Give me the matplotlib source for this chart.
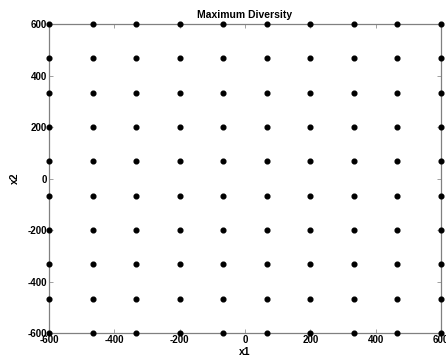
import numpy as np
import matplotlib
matplotlib.use("Agg")
import matplotlib.pyplot as plt

# Data: 10x10 grid of design points
x1_levels = [-600, -466.7, -333.3, -200, -66.7, 66.7, 200, 333.3, 466.7, 600]
x2_levels = [-600, -466.7, -333.3, -200, -66.7, 66.7, 200, 333.3, 466.7, 600]
xticks = [-600, -400, -200, 0, 200, 400, 600]
yticks = [-600, -400, -200, 0, 200, 400, 600]

X1, X2 = np.meshgrid(x1_levels, x2_levels)

plt.rcParams['font.family'] = ['Liberation Sans', 'DejaVu Sans']
fig = plt.figure(figsize=(4.46, 3.60), dpi=100)
ax = fig.add_axes([49/446, 1 - 333/360, (441-49)/446, (333-24)/360])

ax.plot(X1.ravel(), X2.ravel(), 'o', color='black', markersize=3.4,
        linestyle='none', clip_on=False, zorder=5)

ax.set_xlim(-600, 600)
ax.set_ylim(-600, 600)
ax.set_xticks(xticks)
ax.set_yticks(yticks)
ax.set_xticklabels([str(t) for t in xticks], fontsize=7, fontweight='bold')
ax.set_yticklabels([str(t) for t in yticks], fontsize=7, fontweight='bold')
ax.tick_params(direction='in', length=3, width=0.6, color='#909090',
               top=True, right=True, pad=1.2)
for s in ax.spines.values():
    s.set_color('#808080')
    s.set_linewidth(0.9)

ax.set_title('Maximum Diversity', fontsize=7.5, fontweight='bold', pad=4)
ax.set_xlabel('x1', fontsize=7.5, fontweight='bold', labelpad=1.5)
ax.set_ylabel('x2', fontsize=7.5, fontweight='bold', labelpad=6)

fig.savefig('out.png', dpi=100)
